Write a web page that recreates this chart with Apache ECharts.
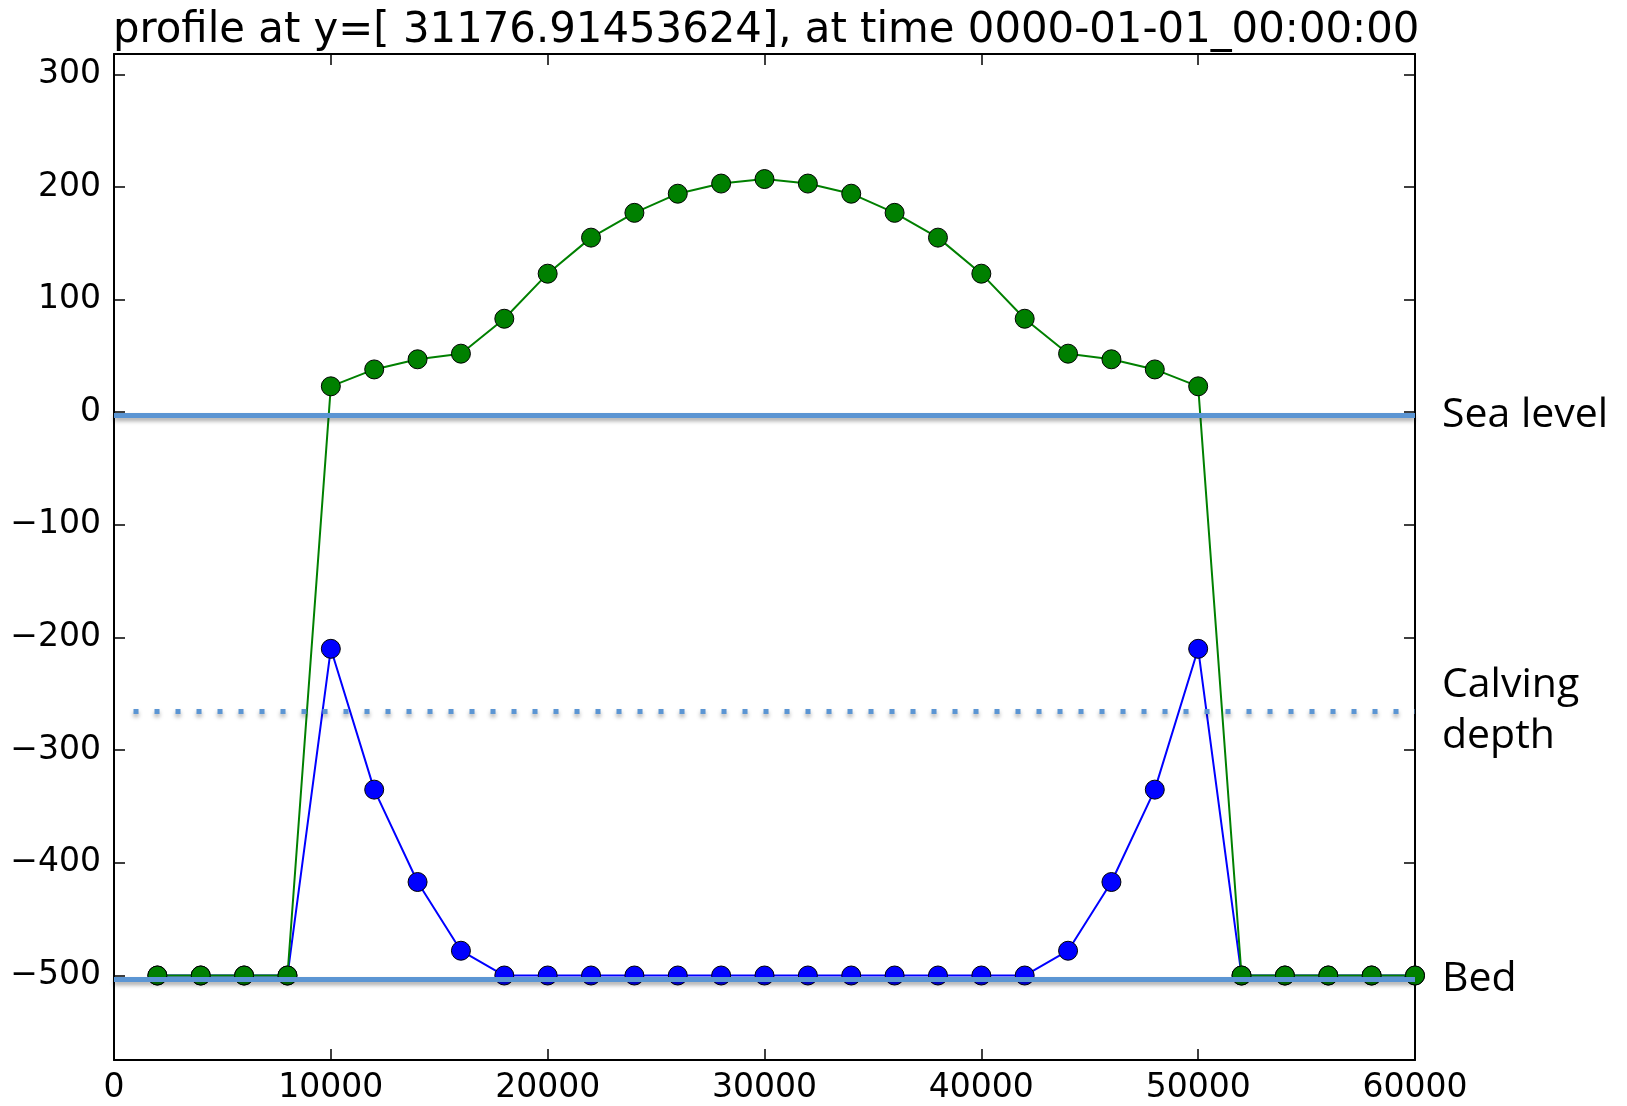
<!DOCTYPE html>
<html>
<head>
<meta charset="utf-8">
<title>profile</title>
<script src="https://cdn.jsdelivr.net/npm/echarts@6/dist/echarts.min.js"></script>
<style>
  html, body { margin: 0; padding: 0; background: #fff; }
  #chart { width: 1627px; height: 1106px; }
</style>
</head>
<body>
<div id="chart"></div>
<script>
// Horizontal positions along the profile (m)
const xPositions = [2000, 4000, 6000, 8000, 10000, 12000, 14000, 16000, 18000, 20000,
  22000, 24000, 26000, 28000, 30000, 32000, 34000, 36000, 38000, 40000,
  42000, 44000, 46000, 48000, 50000, 52000, 54000, 56000, 58000, 60000];

// Upper ice surface (green)
const upperSurface = [-500, -500, -500, -500, 23, 38, 47, 52, 83, 123,
  155, 177, 194, 203, 207, 203, 194, 177, 155, 123,
  83, 52, 47, 38, 23, -500, -500, -500, -500, -500];

// Lower ice surface (blue)
const lowerSurface = [-500, -500, -500, -500, -210, -335, -417, -478, -500, -500,
  -500, -500, -500, -500, -500, -500, -500, -500, -500, -500,
  -500, -478, -417, -335, -210, -500, -500, -500, -500, -500];

// Axis ticks
const xTicks = [0, 10000, 20000, 30000, 40000, 50000, 60000];
const yTicks = [-500, -400, -300, -200, -100, 0, 100, 200, 300];

// Reference levels drawn across the profile
const levelNames = ['Sea level', 'Calving\ndepth', 'Bed'];
const levelValues = [-3, -265, -503];
const levelDashed = [false, true, false];
const levelStart = [0, 900, 0];

const titleText = 'profile at y=[ 31176.91453624], at time 0000-01-01_00:00:00';

const FONT = 'DejaVu Sans';
const X_MIN = 0, X_MAX = 60000, Y_MIN = -575, Y_MAX = 318;
const toPairs = (ys) => xPositions.map((x, i) => [x, ys[i]]);
const fmtY = (v) => (v < 0 ? '\u2212' + Math.abs(v) : String(v));

const frameLine = { show: true, onZero: false, lineStyle: { color: '#000', width: 2 } };
const tickStyle = { show: true, inside: true, length: 11, lineStyle: { color: '#000', width: 1.5 } };

const levelLines = levelValues.map((v, i) => ([
  {
    coord: [levelStart[i], v],
    lineStyle: {
      color: '#5b95d3',
      width: 5,
      type: levelDashed[i] ? [5, 16] : 'solid',
      cap: 'butt',
      shadowColor: 'rgba(0,0,0,0.35)',
      shadowBlur: 4,
      shadowOffsetY: 3
    },
    label: {
      show: true,
      position: 'end',
      distance: 27,
      formatter: levelNames[i],
      fontFamily: 'Open Sans',
      fontSize: 41,
      lineHeight: 51,
      color: '#000',
      align: 'left',
      verticalAlign: 'middle'
    }
  },
  { coord: [X_MAX, v] }
]));

const chart = echarts.init(document.getElementById('chart'), null, { renderer: 'canvas' });
chart.setOption({
  backgroundColor: '#ffffff',
  animation: false,
  title: {
    text: titleText,
    left: 108,
    top: 5,
    textStyle: { fontFamily: FONT, fontSize: 41.8, fontWeight: 'normal', color: '#000' }
  },
  grid: { left: 114, right: 212, top: 54, bottom: 46 },
  xAxis: [
    {
      type: 'value', position: 'bottom', min: X_MIN, max: X_MAX, interval: 10000,
      axisLine: frameLine, axisTick: tickStyle, splitLine: { show: false },
      axisLabel: {
        margin: 12, fontFamily: FONT, fontSize: 33, color: '#000',
        customValues: xTicks, formatter: (v) => String(v)
      }
    },
    {
      type: 'value', position: 'top', min: X_MIN, max: X_MAX, interval: 10000,
      axisLine: frameLine, axisTick: tickStyle, splitLine: { show: false },
      axisLabel: { show: false }
    }
  ],
  yAxis: [
    {
      type: 'value', position: 'left', min: Y_MIN, max: Y_MAX,
      axisLine: frameLine, splitLine: { show: false },
      axisTick: Object.assign({}, tickStyle, { customValues: yTicks }),
      axisLabel: {
        margin: 13, fontFamily: FONT, fontSize: 33, color: '#000',
        customValues: yTicks, formatter: fmtY
      }
    },
    {
      type: 'value', position: 'right', min: Y_MIN, max: Y_MAX,
      axisLine: frameLine, splitLine: { show: false },
      axisTick: Object.assign({}, tickStyle, { customValues: yTicks }),
      axisLabel: { show: false }
    }
  ],
  series: [
    {
      name: 'lower surface', type: 'line', xAxisIndex: 0, yAxisIndex: 0,
      data: toPairs(lowerSurface),
      symbol: 'circle', symbolSize: 19,
      lineStyle: { color: '#0000ff', width: 2 },
      itemStyle: { color: '#0000ff', borderColor: '#000', borderWidth: 1 },
      z: 2
    },
    {
      name: 'upper surface', type: 'line', xAxisIndex: 0, yAxisIndex: 0,
      data: toPairs(upperSurface),
      symbol: 'circle', symbolSize: 19,
      lineStyle: { color: '#008000', width: 2 },
      itemStyle: { color: '#008000', borderColor: '#000', borderWidth: 1 },
      z: 3
    },
    {
      name: 'levels', type: 'line', xAxisIndex: 0, yAxisIndex: 0,
      data: [[X_MIN, null]], showSymbol: false, z: 5, silent: true,
      lineStyle: { width: 0 },
      markLine: {
        silent: true, symbol: ['none', 'none'], animation: false,
        data: levelLines
      }
    }
  ]
});
</script>
</body>
</html>
